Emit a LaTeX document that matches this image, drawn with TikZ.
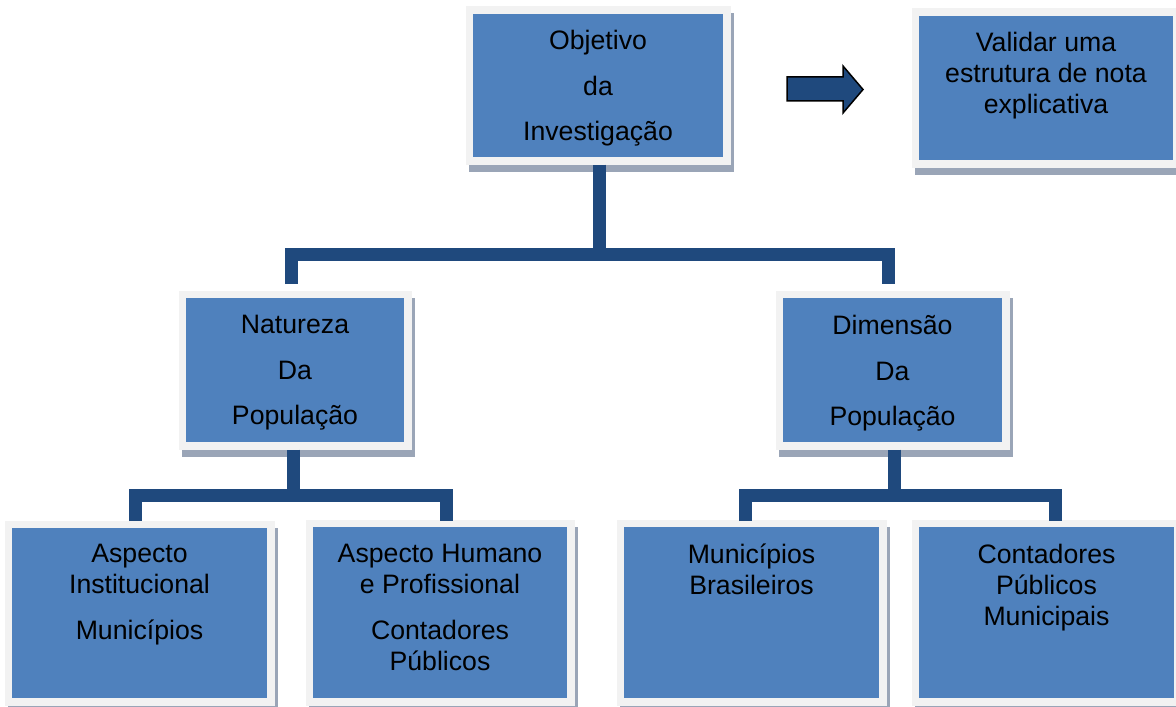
\documentclass[tikz,border=0pt]{standalone}
\usepackage{fontspec}
\setmainfont{Liberation Sans}
\usetikzlibrary{shadows}
\definecolor{azul}{HTML}{4F81BD}
\definecolor{moldura}{HTML}{F2F2F2}
\definecolor{azulescuro}{HTML}{1F497D}
\definecolor{sombra}{HTML}{9AA5B7}
\newcommand{\pxl}{0.75pt}

\begin{document}
\begin{tikzpicture}[x=0.75pt,y=-0.75pt]
\tikzstyle{caixa}=[rectangle, fill=azul, draw=moldura, line width=7.5*\pxl, inner sep=0pt, outer sep=0pt,
  general shadow={fill=sombra, draw=sombra, line width=7.5*\pxl, shadow xshift=3*\pxl, shadow yshift=-7*\pxl}]
\tikzstyle{texto}=[inner sep=0pt, anchor=north, align=center, font=\fontsize{20pt}{23.25pt}\selectfont]
\tikzstyle{conector}=[azulescuro, line width=13*\pxl]
\useasboundingbox (0,0) rectangle (1176,706);
\clip (0,0) rectangle (1176,706);

\node[caixa, minimum width=257.5*\pxl, minimum height=150.5*\pxl] (obj) at (598,85.5) {};
\node[caixa, minimum width=261.5*\pxl, minimum height=151.5*\pxl] (val) at (1046,88) {};
\node[caixa, minimum width=225.5*\pxl, minimum height=151.5*\pxl] (nat) at (295,370) {};
\node[caixa, minimum width=226.5*\pxl, minimum height=151.5*\pxl] (dim) at (892.5,370) {};
\node[caixa, minimum width=262.5*\pxl, minimum height=177.5*\pxl] (inst) at (139.5,613) {};
\node[caixa, minimum width=261.5*\pxl, minimum height=178.5*\pxl] (hum) at (440,612.5) {};
\node[caixa, minimum width=262.5*\pxl, minimum height=178.5*\pxl] (mun) at (751.5,612.5) {};
\node[caixa, minimum width=262.5*\pxl, minimum height=178.5*\pxl] (cont) at (1046.5,612.5) {};

\coordinate (j1) at (599,254.5);
\coordinate (d1) at (291,284);
\coordinate (d2) at (888.5,284);
\draw[conector, shorten <=3.75*\pxl] (obj.south -| j1) -- (j1);
\draw[conector] (d1) |- (j1) -| (d2);

\coordinate (j2) at (293.5,495);
\coordinate (d3) at (135,521);
\coordinate (d4) at (446,521);
\draw[conector, shorten <=3.75*\pxl] (nat.south -| j2) -- (j2);
\draw[conector] (d3) |- (j2) -| (d4);

\coordinate (j3) at (894,495);
\coordinate (d5) at (745,521);
\coordinate (d6) at (1055.5,521);
\draw[conector, shorten <=3.75*\pxl] (dim.south -| j3) -- (j3);
\draw[conector] (d5) |- (j3) -| (d6);

\draw[black, fill=azulescuro, line width=1.5*\pxl] (787,77) -- (843,77) -- (843,66) -- (863,89.5) -- (843,113) -- (843,101) -- (787,101) -- cycle;

\draw (598,30) node[texto] (objt) {Objetivo\\[11pt]da\\[11pt]Investigação};
\draw (1046,32) node[texto] (valt) {Validar uma\\estrutura de nota\\explicativa};
\draw (295,315) node[texto] (natt) {Natureza\\[11pt]Da\\[11pt]População};
\draw (892.5,315) node[texto] (dimt) {Dimensão\\[11pt]Da\\[11pt]População};
\draw (139.5,544) node[texto] (instt) {Aspecto\\Institucional\\[11pt]Municípios};
\draw (440,544) node[texto] (humt) {Aspecto Humano\\e Profissional\\[11pt]Contadores\\Públicos};
\draw (751.5,544) node[texto] (munt) {Municípios\\Brasileiros};
\draw (1046.5,544) node[texto] (contt) {Contadores\\Públicos\\Municipais};
\end{tikzpicture}
\end{document}
